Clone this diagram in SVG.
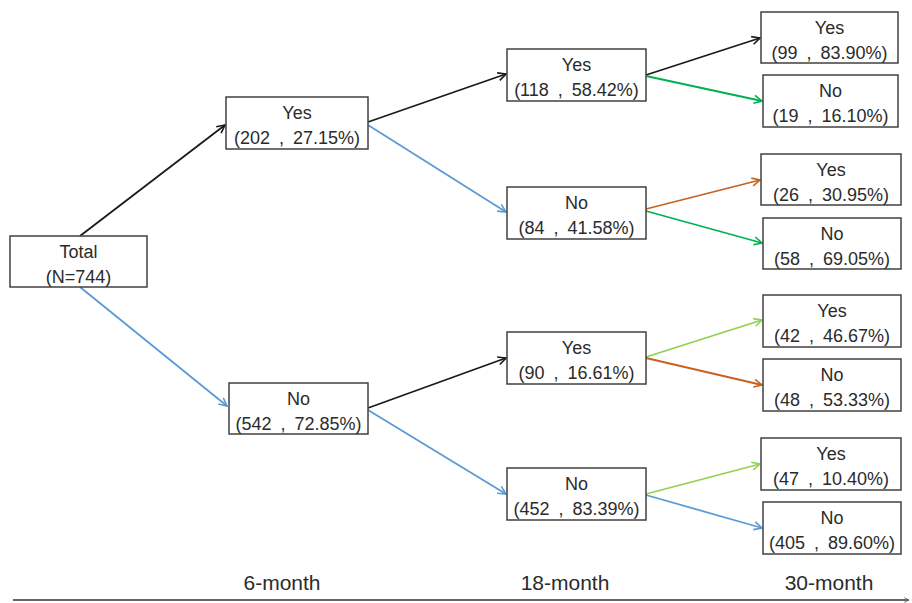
<svg xmlns="http://www.w3.org/2000/svg" width="912" height="603" viewBox="0 0 912 603">
<style>
.box{fill:#fff;stroke:#404040;stroke-width:1.5}
.t{font-family:"Liberation Sans","Open Sans",Arial,sans-serif;font-size:18px;fill:#2b2b2b;text-anchor:middle;word-spacing:4px}
.lab{font-family:"Liberation Sans","Open Sans",Arial,sans-serif;font-size:21px;fill:#2b2b2b;text-anchor:middle}
.c{fill:none;stroke-width:1.8}
.k{stroke:#1a1a1a}.b{stroke:#5b9bd5}.g{stroke:#00b050}.lg{stroke:#92d050}.o{stroke:#c8611f}
</style>
<defs>
<marker id="mk" viewBox="0 0 10 10" refX="9" refY="5" markerWidth="10" markerHeight="10" markerUnits="userSpaceOnUse" orient="auto"><path d="M1,1 L9,5 L1,9" fill="none" stroke="#1a1a1a" stroke-width="1.6"/></marker>
<marker id="mb" viewBox="0 0 10 10" refX="9" refY="5" markerWidth="10" markerHeight="10" markerUnits="userSpaceOnUse" orient="auto"><path d="M1,1 L9,5 L1,9" fill="none" stroke="#5b9bd5" stroke-width="1.6"/></marker>
<marker id="mg" viewBox="0 0 10 10" refX="9" refY="5" markerWidth="10" markerHeight="10" markerUnits="userSpaceOnUse" orient="auto"><path d="M1,1 L9,5 L1,9" fill="none" stroke="#00b050" stroke-width="1.6"/></marker>
<marker id="mlg" viewBox="0 0 10 10" refX="9" refY="5" markerWidth="10" markerHeight="10" markerUnits="userSpaceOnUse" orient="auto"><path d="M1,1 L9,5 L1,9" fill="none" stroke="#92d050" stroke-width="1.6"/></marker>
<marker id="mo" viewBox="0 0 10 10" refX="9" refY="5" markerWidth="10" markerHeight="10" markerUnits="userSpaceOnUse" orient="auto"><path d="M1,1 L9,5 L1,9" fill="none" stroke="#c8611f" stroke-width="1.6"/></marker>
<marker id="ma" viewBox="0 0 10 10" refX="9" refY="5" markerWidth="6" markerHeight="6" markerUnits="userSpaceOnUse" orient="auto"><path d="M1,1 L9,5 L1,9" fill="none" stroke="#666" stroke-width="1.4"/></marker>
</defs>
<rect width="912" height="603" fill="#fff"/>
<g id="connectors">
<line class="c k" x1="80" y1="236" x2="225" y2="125" marker-end="url(#mk)"/>
<line class="c b" x1="80" y1="287" x2="227" y2="406" marker-end="url(#mb)"/>
<line class="c k" x1="368" y1="122" x2="506" y2="74" marker-end="url(#mk)"/>
<line class="c b" x1="368" y1="125" x2="506" y2="212" marker-end="url(#mb)"/>
<line class="c k" x1="368" y1="408" x2="506" y2="358" marker-end="url(#mk)"/>
<line class="c b" x1="368" y1="410" x2="506" y2="494" marker-end="url(#mb)"/>
<line class="c k" x1="646" y1="75" x2="760" y2="38" marker-end="url(#mk)"/>
<line class="c g" x1="646" y1="76" x2="762" y2="101" marker-end="url(#mg)"/>
<line class="c o" x1="646" y1="209" x2="760" y2="180" marker-end="url(#mo)"/>
<line class="c g" x1="646" y1="211" x2="762" y2="243" marker-end="url(#mg)"/>
<line class="c lg" x1="646" y1="357" x2="762" y2="320" marker-end="url(#mlg)"/>
<line class="c o" x1="646" y1="358" x2="762" y2="385" marker-end="url(#mo)"/>
<line class="c lg" x1="646" y1="494" x2="760" y2="464" marker-end="url(#mlg)"/>
<line class="c b" x1="646" y1="495" x2="762" y2="528" marker-end="url(#mb)"/>
<line x1="13" y1="600" x2="909" y2="600" stroke="#666" stroke-width="2" marker-end="url(#ma)"/>
</g>
<g id="total"><rect class="box" x="10" y="236" width="137" height="51"/><text class="t" x="78.5" y="258">Total</text><text class="t" x="78.5" y="283">(N=744)</text></g>
<g id="m6-yes"><rect class="box" x="226" y="97" width="142" height="52"/><text class="t" x="297" y="119">Yes</text><text class="t" x="297" y="144">(202 , 27.15%)</text></g>
<g id="m6-no"><rect class="box" x="229" y="383" width="139" height="51"/><text class="t" x="298.5" y="405">No</text><text class="t" x="298.5" y="430">(542 , 72.85%)</text></g>
<g id="m18-yes-a"><rect class="box" x="507" y="49" width="139" height="52"/><text class="t" x="576.5" y="71">Yes</text><text class="t" x="576.5" y="96">(118 , 58.42%)</text></g>
<g id="m18-no-a"><rect class="box" x="507" y="187" width="139" height="52"/><text class="t" x="576.5" y="209">No</text><text class="t" x="576.5" y="234">(84 , 41.58%)</text></g>
<g id="m18-yes-b"><rect class="box" x="507" y="332" width="139" height="52"/><text class="t" x="576.5" y="354">Yes</text><text class="t" x="576.5" y="379">(90 , 16.61%)</text></g>
<g id="m18-no-b"><rect class="box" x="507" y="468" width="139" height="52"/><text class="t" x="576.5" y="490">No</text><text class="t" x="576.5" y="515">(452 , 83.39%)</text></g>
<g id="m30-1"><rect class="box" x="761" y="12" width="137" height="51"/><text class="t" x="829.5" y="34">Yes</text><text class="t" x="829.5" y="59">(99 , 83.90%)</text></g>
<g id="m30-2"><rect class="box" x="763" y="75" width="135" height="52"/><text class="t" x="830.5" y="97">No</text><text class="t" x="830.5" y="122">(19 , 16.10%)</text></g>
<g id="m30-3"><rect class="box" x="761" y="154" width="140" height="51"/><text class="t" x="831" y="176">Yes</text><text class="t" x="831" y="201">(26 , 30.95%)</text></g>
<g id="m30-4"><rect class="box" x="763" y="218" width="138" height="51"/><text class="t" x="832" y="240">No</text><text class="t" x="832" y="265">(58 , 69.05%)</text></g>
<g id="m30-5"><rect class="box" x="763" y="295" width="138" height="52"/><text class="t" x="832" y="317">Yes</text><text class="t" x="832" y="342">(42 , 46.67%)</text></g>
<g id="m30-6"><rect class="box" x="763" y="359" width="138" height="52"/><text class="t" x="832" y="381">No</text><text class="t" x="832" y="406">(48 , 53.33%)</text></g>
<g id="m30-7"><rect class="box" x="761" y="438" width="140" height="52"/><text class="t" x="831" y="460">Yes</text><text class="t" x="831" y="485">(47 , 10.40%)</text></g>
<g id="m30-8"><rect class="box" x="763" y="502" width="138" height="52"/><text class="t" x="832" y="524">No</text><text class="t" x="832" y="549">(405 , 89.60%)</text></g>
<g id="axis-labels">
<text class="lab" x="282" y="590">6-month</text>
<text class="lab" x="565" y="590">18-month</text>
<text class="lab" x="829" y="590">30-month</text>
</g>
</svg>
